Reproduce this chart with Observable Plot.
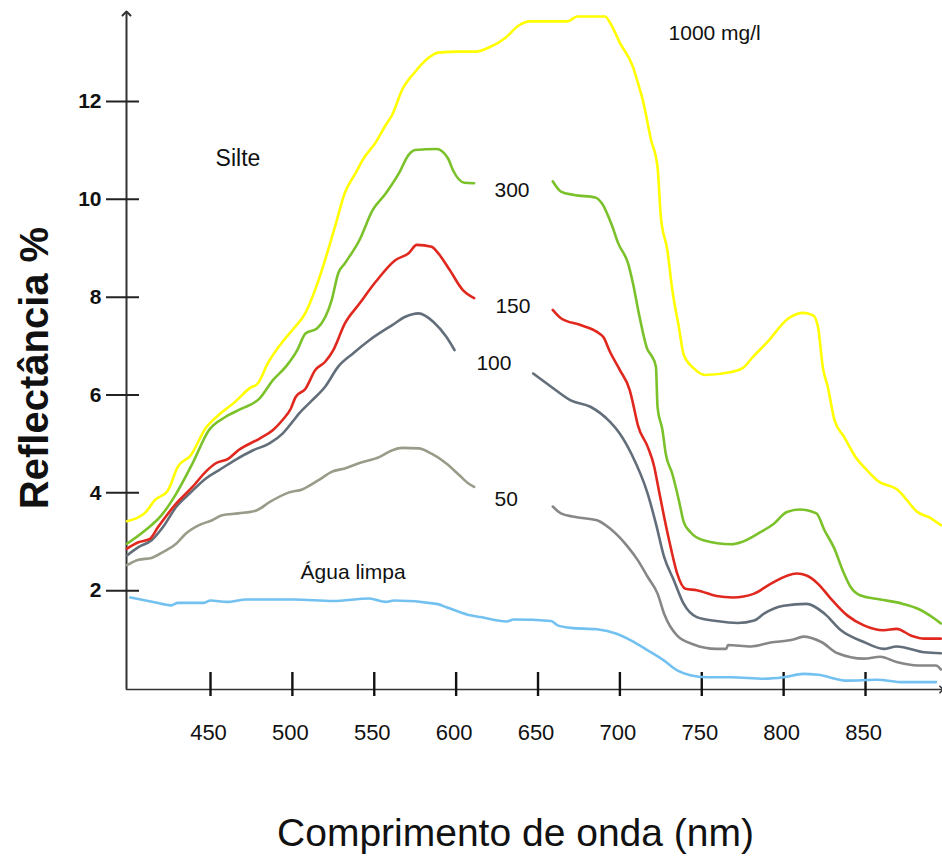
<!DOCTYPE html>
<html>
<head>
<meta charset="utf-8">
<script src="https://cdn.jsdelivr.net/npm/d3@7"></script>
<script src="https://cdn.jsdelivr.net/npm/@observablehq/plot@0.6"></script>
<style>
  html, body { margin: 0; padding: 0; background: #fff; }
  #chart svg { display: block; }
</style>
</head>
<body>
<div id="chart"></div>
<script>
// ---- Data (wavelength in nm, reflectance in %) ----
const xTicks = [450, 500, 550, 600, 650, 700, 750, 800, 850];
const yTicks = [2, 4, 6, 8, 10, 12];

const wl1000 = [399,410,416,424,430,438,447,455,465,474,479,485,494,500,508,516,526,532,539,543,551,557,561,567,575,583,589,602,612,621,630,638,645,668,674,691,694,700,708,711,714,719,723,725,729,732,736,739,745,752,768,775,781,790,803,812,818,821,824,827,831,837,844,851,857,870,882,890,896];
const r1000  = [3.42,3.59,3.85,4.05,4.53,4.77,5.32,5.59,5.86,6.14,6.24,6.65,7.09,7.33,7.68,8.35,9.44,10.13,10.56,10.81,11.17,11.52,11.73,12.24,12.61,12.89,13.00,13.02,13.02,13.12,13.30,13.55,13.64,13.64,13.74,13.74,13.61,13.20,12.71,12.38,12.03,11.22,10.66,9.64,8.96,8.15,7.39,6.82,6.55,6.41,6.47,6.55,6.77,7.08,7.57,7.68,7.63,7.39,6.55,6.16,5.49,5.14,4.73,4.46,4.26,4.05,3.60,3.48,3.34];

const wl300 = [399,410,420,429,439,449,459,469,480,488,496,503,508,515,524,528,532,541,549,557,565,571,575,588,595,598,605,611,635,659,664,672,685,689,695,699,705,708,712,717,719,722,723,726,728,732,736,739,743,751,768,774,786,794,802,810,820,825,831,836,841,847,859,873,882,892,896];
const r300  = [2.96,3.23,3.54,3.98,4.60,5.28,5.55,5.72,5.93,6.30,6.58,6.92,7.26,7.36,7.94,8.49,8.69,9.17,9.78,10.12,10.53,10.91,11.01,11.03,10.84,10.60,10.34,10.33,null,10.37,10.16,10.09,10.04,9.92,9.48,9.10,8.69,8.28,7.60,6.92,6.82,6.58,5.76,5.28,4.80,4.39,3.85,3.40,3.20,3.03,2.95,2.99,3.20,3.37,3.61,3.66,3.58,3.23,2.86,2.42,2.07,1.90,1.82,1.73,1.63,1.43,1.33];

const wl150 = [399,406,413,418,429,439,447,453,461,467,480,488,494,499,502,508,514,520,525,532,541,551,563,571,576,585,589,596,604,611,635,659,664,676,686,690,694,700,706,708,711,717,721,723,727,731,735,740,747,759,769,782,792,808,814,821,828,839,849,861,869,878,886,896];
const r150  = [2.86,2.99,3.06,3.30,3.78,4.12,4.43,4.60,4.70,4.87,5.11,5.28,5.49,5.72,5.96,6.13,6.51,6.68,6.92,7.46,7.87,8.32,8.76,8.90,9.07,9.03,8.90,8.56,8.15,7.98,null,7.74,7.57,7.43,7.29,7.18,6.88,6.51,6.10,5.83,5.38,4.94,4.53,4.19,3.51,2.89,2.35,2.04,2.01,1.89,1.86,1.94,2.14,2.35,2.31,2.14,1.87,1.49,1.29,1.19,1.22,1.08,1.02,1.02];

const wl100 = [399,406,414,421,429,437,447,455,465,476,486,494,500,504,512,520,528,537,547,561,569,577,586,594,599,623,647,658,670,682,694,700,707,717,722,727,733,739,747,759,772,782,788,800,814,825,835,849,861,869,886,896];
const r100  = [2.72,2.89,3.03,3.30,3.71,3.98,4.29,4.46,4.67,4.87,5.01,5.21,5.45,5.62,5.89,6.17,6.58,6.85,7.12,7.43,7.60,7.67,7.50,7.19,6.92,null,6.44,6.17,5.89,5.76,5.45,5.21,4.80,3.98,3.37,2.69,2.21,1.73,1.46,1.38,1.34,1.39,1.53,1.69,1.73,1.53,1.19,0.95,0.81,0.86,0.74,0.72];

const wl50 = [399,406,414,421,429,435,443,451,457,467,478,486,498,506,516,524,532,541,553,561,567,577,585,594,602,608,611,635,659,664,672,686,694,705,711,717,723,727,735,745,759,765,766,780,792,806,812,823,833,849,859,869,882,893,896];
const r50  = [2.52,2.63,2.67,2.79,2.96,3.17,3.34,3.44,3.54,3.58,3.64,3.81,4.01,4.07,4.26,4.43,4.50,4.61,4.73,4.87,4.92,4.91,4.80,4.60,4.36,4.18,4.12,null,3.72,3.58,3.51,3.44,3.27,2.89,2.62,2.28,1.94,1.53,1.08,0.90,0.81,0.81,0.89,0.86,0.94,1.00,1.06,0.95,0.72,0.61,0.65,0.54,0.47,0.47,0.39];

const wlWater = [401,415,426,430,446,450,460,472,501,525,547,557,562,588,595,607,615,631,635,658,662,670,686,698,707,717,727,735,743,753,768,788,800,812,821,839,857,873,893];
const rWater  = [1.86,1.77,1.70,1.75,1.75,1.80,1.77,1.82,1.82,1.79,1.84,1.77,1.80,1.73,1.65,1.51,1.46,1.37,1.41,1.38,1.29,1.24,1.21,1.12,0.98,0.78,0.57,0.37,0.27,0.23,0.23,0.20,0.23,0.30,0.28,0.16,0.18,0.13,0.13];

// series labels, anchored at (wavelength, reflectance)
const labelText = ["1000 mg/l", "300", "150", "100", "50", "Água limpa"];
const labelWl   = [729.7, 623.4, 624.0, 612.4, 623.4, 505.0];
const labelRefl = [13.39, 10.19, 7.82, 6.65, 3.86, 2.37];
const panelText = ["Silte"];
const panelWl   = [453.1];
const panelRefl = [10.83];

const xTitle = "Comprimento de onda (nm)";
const yTitle = "Reflectância %";

// ---- Build ----
const X0 = 398.7, X1 = 896.4, Y1 = 13.8;
const toRows = (wl, r) => wl.map((x, i) => ({x, y: r[i], part: r.slice(0, i).filter(v => v === null).length}));

const series = [
  {rows: toRows(wlWater, rWater), color: "#72c1f0"},
  {rows: toRows(wl50, r50).filter(d => d.part === 0), color: "#9b9b8a"},
  {rows: toRows(wl50, r50).filter(d => d.part === 1), color: "#878787"},
  {rows: toRows(wl100, r100), color: "#626e7a"},
  {rows: toRows(wl150, r150), color: "#e0281e"},
  {rows: toRows(wl300, r300), color: "#7ac12a"},
  {rows: toRows(wl1000, r1000), color: "#ffff00"}
];

const labels = labelText.map((t, i) => ({t, x: labelWl[i], y: labelRefl[i]}));
const panel = panelText.map((t, i) => ({t, x: panelWl[i], y: panelRefl[i]}));

const font = "'Liberation Sans', Arial, Helvetica, sans-serif";

const chart = Plot.plot({
  width: 942,
  height: 856,
  marginLeft: 126,
  marginRight: 1,
  marginTop: 13,
  marginBottom: 168,
  x: {domain: [X0, X1]},
  y: {domain: [0, Y1]},
  style: {fontFamily: font, background: "#fff", color: "#111"},
  marks: [
    Plot.line([[X0, 0], [X0, Y1]], {stroke: "#333", strokeWidth: 2, markerEnd: "arrow"}),
    Plot.line([[X0, 0], [X1, 0]], {stroke: "#333", strokeWidth: 1.6, markerEnd: "arrow", dy: 1}),
    Plot.axisY(yTicks, {anchor: "left", tickSize: 33, tickPadding: 5, dx: 13, stroke: "#222", strokeWidth: 2, fill: "#111", fontSize: 21, fontWeight: "bold", label: null, tickFormat: d => String(d)}),
    Plot.axisX(xTicks, {anchor: "bottom", tickSize: 24, dy: -16, stroke: "#111", strokeWidth: 2.4, fill: "none", label: null}),
    Plot.axisX(xTicks, {anchor: "bottom", tickSize: 0, tickPadding: 36, dx: -2, fill: "#111", fontSize: 22, label: null, tickFormat: d => String(d)}),
    ...series.map(s => Plot.line(s.rows, {x: "x", y: "y", stroke: s.color, strokeWidth: 2.6, curve: "monotone-x"})),
    Plot.text(labels, {x: "x", y: "y", text: "t", textAnchor: "start", lineAnchor: "middle", fontSize: 21, fill: "#111"}),
    Plot.text(panel, {x: "x", y: "y", text: "t", textAnchor: "start", lineAnchor: "middle", fontSize: 23, fill: "#111"}),
    Plot.text([xTitle], {text: d => d, frameAnchor: "bottom", lineAnchor: "bottom", textAnchor: "middle", dx: -18.5, dy: 157, fontSize: 39, fill: "#111"}),
    Plot.text([yTitle], {text: d => d, frameAnchor: "left", lineAnchor: "bottom", textAnchor: "middle", rotate: -90, dx: -79, dy: 17, fontSize: 40, fontWeight: "bold", fill: "#111"})
  ]
});

document.getElementById("chart").appendChild(chart);
</script>
</body>
</html>
